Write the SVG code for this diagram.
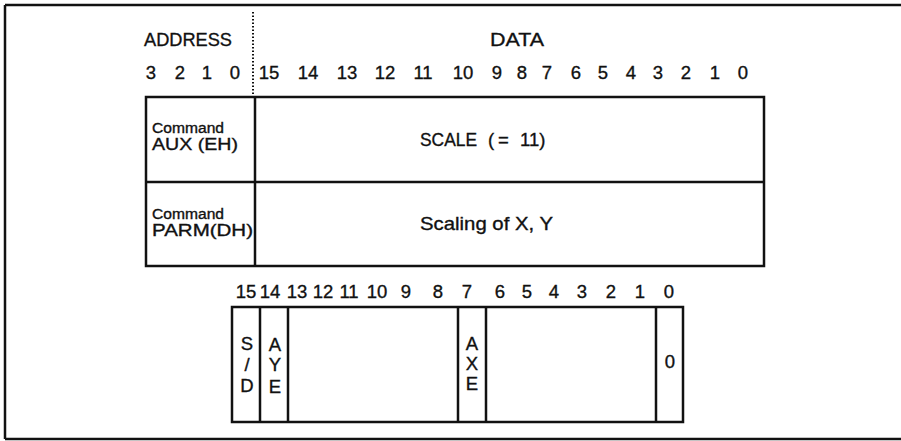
<svg xmlns="http://www.w3.org/2000/svg" width="901" height="441" viewBox="0 0 901 441">
<style>
  text { font-family: "Liberation Sans", Arial, sans-serif; fill: #111; stroke: #111; stroke-width: 0.35; }
  .hd { font-size: 19px; }
  .num { font-size: 18.5px; text-anchor: middle; }
  .cmd { font-size: 14px; }
  .reg { font-size: 17px; }
  .lbl { font-size: 18.5px; }
  .bit { font-size: 18.5px; text-anchor: middle; }
  .ln { stroke: #111; stroke-width: 2.5; fill: none; }
  .dot { stroke: #111; stroke-width: 2; stroke-dasharray: 1.5 2; fill: none; }
</style>
<rect width="901" height="441" fill="#fff"/>
<g id="frame">
  <path class="ln" d="M5 5 H901 M5 5 V439 M5 439 H901"/>
</g>
<g id="header">
  <text class="hd" x="144" y="46" textLength="88" lengthAdjust="spacingAndGlyphs">ADDRESS</text>
  <text class="hd" x="490" y="46" textLength="54" lengthAdjust="spacingAndGlyphs">DATA</text>
  <path class="dot" d="M253 12 V96"/>
  <text class="num" y="79"><tspan x="151">3</tspan><tspan x="180">2</tspan><tspan x="207">1</tspan><tspan x="235">0</tspan><tspan x="269">15</tspan><tspan x="308">14</tspan><tspan x="347">13</tspan><tspan x="385">12</tspan><tspan x="423">11</tspan><tspan x="463">10</tspan><tspan x="497">9</tspan><tspan x="522">8</tspan><tspan x="547">7</tspan><tspan x="576">6</tspan><tspan x="603">5</tspan><tspan x="631">4</tspan><tspan x="658">3</tspan><tspan x="686">2</tspan><tspan x="715">1</tspan><tspan x="743">0</tspan></text>
</g>
<g id="table">
  <rect class="ln" x="146" y="97" width="618" height="169"/>
  <path class="ln" d="M255 97 V266 M146 182 H764"/>
</g>
<g id="row-aux">
  <text class="cmd" x="152" y="133" textLength="72" lengthAdjust="spacingAndGlyphs">Command</text>
  <text class="reg" x="152" y="150" textLength="86" lengthAdjust="spacingAndGlyphs">AUX (EH)</text>
  <text class="lbl" x="420" y="146"><tspan textLength="57" lengthAdjust="spacingAndGlyphs">SCALE</tspan> <tspan x="488">(</tspan><tspan x="498">=</tspan><tspan x="520">11)</tspan></text>
</g>
<g id="row-parm">
  <text class="cmd" x="152" y="219" textLength="72" lengthAdjust="spacingAndGlyphs">Command</text>
  <text class="reg" x="152" y="236" textLength="101" lengthAdjust="spacingAndGlyphs">PARM(DH)</text>
  <text class="lbl" x="420" y="230" textLength="133" lengthAdjust="spacingAndGlyphs">Scaling of X, Y</text>
</g>
<g id="bits">
  <text class="num" y="298"><tspan x="246">15</tspan><tspan x="270">14</tspan><tspan x="297">13</tspan><tspan x="323">12</tspan><tspan x="349">11</tspan><tspan x="377">10</tspan><tspan x="406">9</tspan><tspan x="438">8</tspan><tspan x="467">7</tspan><tspan x="500">6</tspan><tspan x="527">5</tspan><tspan x="554">4</tspan><tspan x="582">3</tspan><tspan x="611">2</tspan><tspan x="640">1</tspan><tspan x="669">0</tspan></text>
  <rect class="ln" x="232" y="307" width="451" height="115"/>
  <path class="ln" d="M260 307 V422 M288 307 V422 M458 307 V422 M486 307 V422 M656 307 V422"/>
  <text class="bit"><tspan x="247" y="350">S</tspan><tspan x="247" y="371">/</tspan><tspan x="247" y="392">D</tspan></text>
  <text class="bit"><tspan x="275" y="351">A</tspan><tspan x="275" y="371">Y</tspan><tspan x="275" y="393">E</tspan></text>
  <text class="bit"><tspan x="472" y="350">A</tspan><tspan x="472" y="370">X</tspan><tspan x="472" y="390">E</tspan></text>
  <text class="bit" x="670" y="368">0</text>
</g>
</svg>
